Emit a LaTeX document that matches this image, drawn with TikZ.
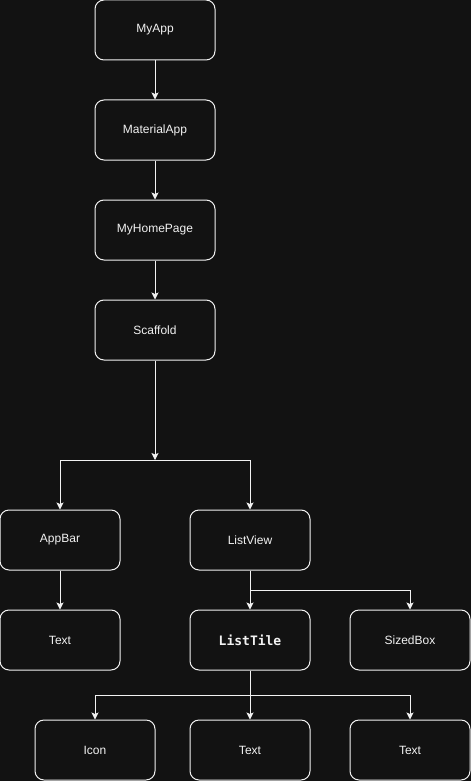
\documentclass[tikz,border=0pt]{standalone}
\usepackage{fontspec}
\setmainfont{Liberation Sans}
\newfontfamily\codefont{DejaVu Sans Mono}
\usetikzlibrary{arrows.meta}
\definecolor{bg}{HTML}{121212}
\definecolor{ink}{HTML}{F2F2F2}
\tikzset{
  widget/.style={draw=ink, fill=bg, line width=1pt, rounded corners=9pt,
    minimum width=120pt, minimum height=60pt, inner sep=0pt,
    text=ink, font=\fontsize{12}{14}\selectfont},
  link/.style={draw=ink, line width=1pt,
    -{Stealth[length=7pt,width=7pt,inset=1.5pt]}},
  plain/.style={draw=ink, line width=1pt}
}
\begin{document}
\begin{tikzpicture}[x=1pt, y=-1pt]
  \fill[bg] (0,0) rectangle (471,781);
  \useasboundingbox (0,0) rectangle (471,781);

  % widget tree
  \node[widget] (myapp)    at (155,30)  {MyApp};
  \node[widget] (material) at (155,130) {MaterialApp};
  \node[widget] (home)     at (155,230) {MyHomePage};
  \node[widget] (scaffold) at (155,330) {Scaffold};
  \node[widget] (appbar)   at (60,540)  {AppBar};
  \node[widget] (listview) at (250,540) {ListView};
  \node[widget] (bartext)  at (60,640)  {Text};
  \node[widget] (listtile) at (250,640) {\codefont\bfseries\fontsize{13}{15}\selectfont ListTile};
  \node[widget] (sizedbox) at (410,640) {SizedBox};
  \node[widget] (icon)     at (95,750)  {Icon};
  \node[widget] (tiletext) at (250,750) {Text};
  \node[widget] (trailing) at (410,750) {Text};

  % branch points
  \coordinate (split) at (155,460);
  \coordinate (lvsplit) at (250,590);
  \coordinate (ltsplit) at (250,695);

  % straight links
  \draw[link] (myapp) -- (material);
  \draw[link] (material) -- (home);
  \draw[link] (home) -- (scaffold);
  \draw[link] (scaffold) -- (split);
  \draw[link] (appbar) -- (bartext);
  \draw[link] (listview) -- (listtile);
  \draw[link] (listtile) -- (tiletext);

  % elbow links
  \draw[link] (split) -| (appbar.north);
  \draw[link] (split) -| (listview.north);
  \draw[link] (lvsplit) -| (sizedbox.north);
  \draw[link] (ltsplit) -| (icon.north);
  \draw[link] (ltsplit) -| (trailing.north);
\end{tikzpicture}
\end{document}
